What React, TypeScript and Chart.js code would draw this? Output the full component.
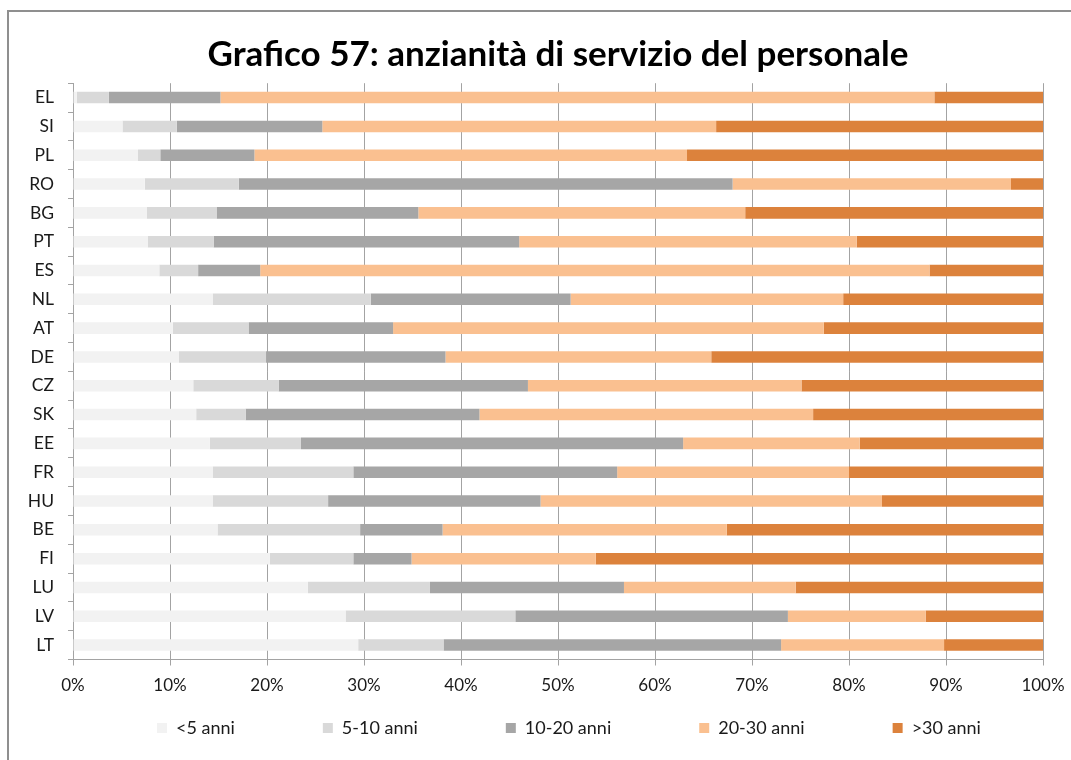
import React, { useEffect, useRef } from 'react';
import { Chart, registerables } from 'chart.js';

Chart.register(...registerables);

const countries = ['EL', 'SI', 'PL', 'RO', 'BG', 'PT', 'ES', 'NL', 'AT', 'DE', 'CZ', 'SK', 'EE', 'FR', 'HU', 'BE', 'FI', 'LU', 'LV', 'LT'];
const seriesNames = ['<5 anni', '5-10 anni', '10-20 anni', '20-30 anni', '>30 anni'];
const lt5 = [0.4, 5.1, 6.7, 7.4, 7.6, 7.7, 8.9, 14.4, 10.3, 10.9, 12.4, 12.7, 14.1, 14.4, 14.4, 14.9, 20.3, 24.2, 28.1, 29.4];
const y5to10 = [3.3, 5.6, 2.3, 9.7, 7.2, 6.8, 4.0, 16.3, 7.8, 9.0, 8.8, 5.1, 9.4, 14.5, 11.9, 14.7, 8.6, 12.6, 17.5, 8.8];
const y10to20 = [11.5, 15.0, 9.7, 50.9, 20.8, 31.5, 6.4, 20.6, 14.9, 18.5, 25.7, 24.1, 39.4, 27.2, 21.9, 8.5, 6.0, 20.0, 28.1, 34.8];
const y20to30 = [73.6, 40.6, 44.6, 28.7, 33.7, 34.8, 69.0, 28.1, 44.4, 27.4, 28.2, 34.4, 18.2, 23.9, 35.2, 29.3, 19.0, 17.7, 14.2, 16.8];
const gt30 = [11.2, 33.7, 36.7, 3.3, 30.7, 19.2, 11.7, 20.6, 22.6, 34.2, 24.9, 23.7, 18.9, 20.0, 16.6, 32.6, 46.1, 25.5, 12.1, 10.2];
const seriesValues = [lt5, y5to10, y10to20, y20to30, gt30];
const seriesColors = ['#f2f2f2', '#d9d9d9', '#a6a6a6', '#fac090', '#dc823c'];
const titleText = 'Grafico 57: anzianità di servizio del personale';

const FAMILY = 'Lato, "Open Sans", sans-serif';
const GRID = '#a3a3a3';
const TEXT = '#1a1a1a';

export default function App() {
  const ref = useRef<HTMLCanvasElement | null>(null);

  useEffect(() => {
    if (!ref.current) return;
    const legendPad = 88;
    const legendFont = 18;
    const placeBoxes = {
      id: 'placeBoxes',
      afterLayout(chart: any) {
        const lg = chart.legend;
        if (lg) {
          lg.left = 157 - legendPad;
          lg.right = 1500;
          lg.width = lg.right - lg.left;
          lg.top = 728 - legendPad - legendFont / 2;
          lg.bottom = lg.top + 200;
        }
        const tt = chart.titleBlock;
        if (tt) {
          tt.left = 58;
          tt.right = 1058;
          tt.width = 1000;
        }
      },
    };
    const chart = new Chart(ref.current, {
      type: 'bar',
      data: {
        labels: countries,
        datasets: seriesNames.map((name, i) => ({
          label: name,
          data: seriesValues[i],
          backgroundColor: seriesColors[i],
          borderColor: seriesColors[i],
          borderWidth: 0,
          barPercentage: 0.4,
          categoryPercentage: 1,
        })),
      },
      options: {
        animation: false,
        responsive: false,
        indexAxis: 'y',
        layout: { padding: { left: 0, right: 28, top: 0, bottom: 0 } },
        plugins: {
          title: {
            display: true,
            text: titleText,
            color: '#000',
            font: { family: FAMILY, size: 35, weight: 'bold' },
            padding: { top: 34, bottom: 7.2 },
          },
          legend: {
            position: 'bottom',
            align: 'start',
            maxHeight: 40,
            labels: {
              boxWidth: 10,
              boxHeight: 10,
              padding: legendPad,
              color: TEXT,
              font: { family: FAMILY, size: legendFont },
            },
          },
          tooltip: { enabled: false },
        },
        scales: {
          x: {
            stacked: true,
            min: 0,
            max: 100,
            ticks: {
              stepSize: 10,
              callback: (v: any) => v + '%',
              color: TEXT,
              font: { family: FAMILY, size: 17 },
              padding: 10,
            },
            grid: { color: GRID, tickLength: 6 },
            border: { color: GRID },
            afterFit: (s: any) => {
              s.height = 60.5;
              s.paddingRight = 20;
              s.paddingLeft = 0;
            },
          },
          y: {
            stacked: true,
            grid: { drawOnChartArea: false, tickLength: 5, color: GRID },
            border: { color: GRID },
            ticks: {
              color: TEXT,
              font: { family: FAMILY, size: 17.5 },
              padding: 14,
            },
            afterFit: (s: any) => {
              s.width = 73;
            },
          },
        },
      },
      plugins: [placeBoxes],
    } as any);
    return () => chart.destroy();
  }, []);

  return (
    <div style={{ position: 'fixed', left: 0, top: 0, width: 1071, height: 760, background: '#fff', overflow: 'hidden' }}>
      <div style={{ position: 'absolute', left: 7, top: 10, width: 1100, height: 800, border: '2px solid #8f8f8f', boxSizing: 'border-box' }} />
      <canvas ref={ref} width={1071} height={760} style={{ position: 'absolute', left: 0, top: 0, display: 'block' }} />
    </div>
  );
}
